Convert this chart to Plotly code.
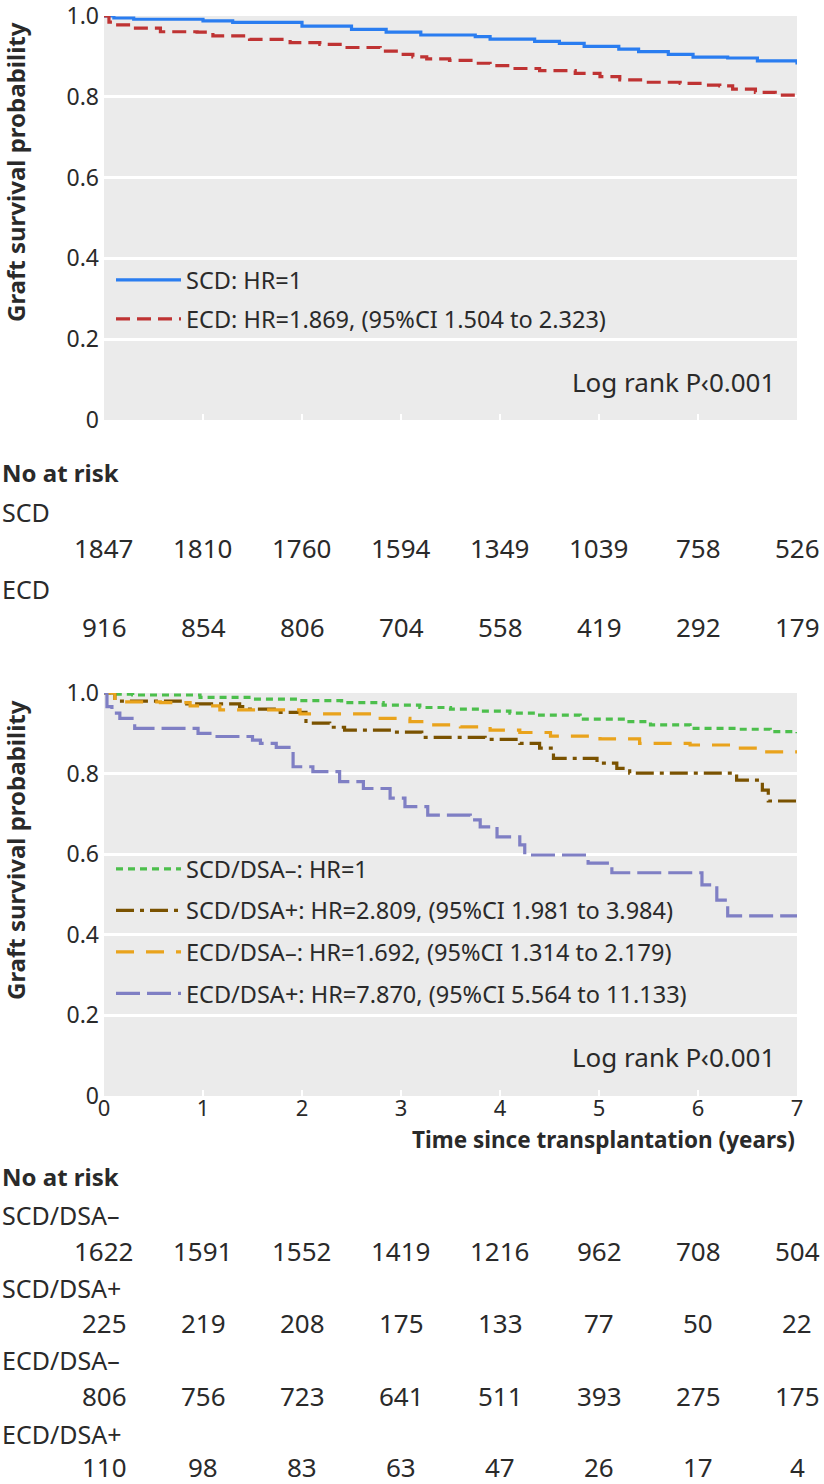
import plotly.graph_objects as go

# ---------------- data ----------------
years = [0, 1, 2, 3, 4, 5, 6, 7]

# Top panel: SCD vs ECD
scd_t = [0, 0.1, 0.3, 1.0, 1.3, 2.0, 2.5, 2.85, 3.2, 3.75, 3.9, 4.35, 4.6, 4.85, 5.2, 5.4, 5.7, 5.95, 6.3, 6.6, 7.0]
scd_s = [1.0, 0.995, 0.992, 0.988, 0.984, 0.975, 0.967, 0.960, 0.953, 0.949, 0.943, 0.937, 0.932, 0.925, 0.918, 0.912, 0.905, 0.898, 0.896, 0.889, 0.880]

ecd_t = [0, 0.05, 0.11, 0.29, 0.57, 0.94, 1.10, 1.47, 1.88, 2.18, 2.41, 2.79, 3.0, 3.12, 3.26, 3.49, 3.75, 3.90, 4.10, 4.40, 4.76, 5.01, 5.21, 5.46, 5.82, 6.02, 6.22, 6.35, 6.58, 6.78, 7.0]
ecd_s = [1.0, 0.985, 0.978, 0.970, 0.961, 0.960, 0.951, 0.942, 0.934, 0.930, 0.922, 0.913, 0.905, 0.899, 0.894, 0.890, 0.883, 0.877, 0.870, 0.865, 0.858, 0.850, 0.842, 0.836, 0.833, 0.829, 0.827, 0.819, 0.811, 0.804, 0.804]

# Bottom panel: donor type x DSA status
scdneg_t = [0, 0.1, 0.29, 0.97, 1.5, 1.98, 2.4, 2.82, 3.19, 3.5, 3.80, 4.1, 4.40, 4.81, 5.28, 5.52, 5.92, 6.42, 6.73, 7.0]
scdneg_s = [1.0, 0.997, 0.995, 0.989, 0.985, 0.981, 0.976, 0.970, 0.964, 0.960, 0.955, 0.950, 0.945, 0.935, 0.929, 0.921, 0.912, 0.910, 0.904, 0.900]

scdpos_t = [0, 0.11, 0.77, 1.37, 1.47, 1.78, 2.04, 2.28, 2.43, 2.9, 3.21, 3.85, 4.20, 4.40, 4.54, 4.98, 5.18, 5.31, 6.39, 6.65, 6.71, 7.0]
scdpos_s = [1.0, 0.980, 0.973, 0.966, 0.960, 0.952, 0.925, 0.915, 0.908, 0.903, 0.890, 0.885, 0.875, 0.863, 0.838, 0.826, 0.813, 0.801, 0.784, 0.759, 0.732, 0.732]

ecdneg_t = [0, 0.11, 0.57, 0.87, 1.17, 1.98, 2.79, 3.09, 3.29, 3.60, 3.90, 4.20, 4.51, 5.01, 5.41, 5.92, 6.35, 6.60, 7.0]
ecdneg_s = [1.0, 0.978, 0.976, 0.968, 0.958, 0.948, 0.937, 0.929, 0.921, 0.916, 0.908, 0.902, 0.893, 0.886, 0.875, 0.871, 0.863, 0.854, 0.850]

ecdpos_t = [0, 0.03, 0.08, 0.16, 0.31, 0.95, 1.07, 1.50, 1.58, 1.74, 1.91, 2.11, 2.38, 2.62, 2.89, 3.04, 3.27, 3.70, 3.80, 3.97, 4.20, 4.25, 4.89, 5.13, 6.04, 6.19, 6.30, 7.0]
ecdpos_s = [1.0, 0.966, 0.950, 0.937, 0.912, 0.900, 0.892, 0.883, 0.875, 0.865, 0.817, 0.805, 0.780, 0.763, 0.739, 0.718, 0.697, 0.685, 0.668, 0.643, 0.623, 0.598, 0.578, 0.554, 0.524, 0.486, 0.447, 0.447]

# Numbers at risk
risk_top_labels = ["SCD", "ECD"]
risk_top = [
    [1847, 1810, 1760, 1594, 1349, 1039, 758, 526],
    [916, 854, 806, 704, 558, 419, 292, 179],
]
risk_bot_labels = ["SCD/DSA–", "SCD/DSA+", "ECD/DSA–", "ECD/DSA+"]
risk_bot = [
    [1622, 1591, 1552, 1419, 1216, 962, 708, 504],
    [225, 219, 208, 175, 133, 77, 50, 22],
    [806, 756, 723, 641, 511, 393, 275, 175],
    [110, 98, 83, 63, 47, 26, 17, 4],
]

top_names = ["SCD: HR=1", "ECD: HR=1.869, (95%CI 1.504 to 2.323)"]
bot_names = ["SCD/DSA–: HR=1",
             "SCD/DSA+: HR=2.809, (95%CI 1.981 to 3.984)",
             "ECD/DSA–: HR=1.692, (95%CI 1.314 to 2.179)",
             "ECD/DSA+: HR=7.870, (95%CI 5.564 to 11.133)"]

ytick_vals = [0, 0.2, 0.4, 0.6, 0.8, 1.0]
ytick_text = ["0", "0.2", "0.4", "0.6", "0.8", "1.0"]

# ---------------- layout helpers ----------------
W, H = 824, 1484
FONT = "Noto Sans, Open Sans, DejaVu Sans, sans-serif"
TXT = "#2a2a2a"

def px(x):
    return x / W

def py(y):
    return 1 - y / H

fig = go.Figure()

LW = 3.2
fig.add_trace(go.Scatter(x=scd_t, y=scd_s, mode="lines", line=dict(shape="hv", color="#2a7df0", width=LW),
                         name=top_names[0], xaxis="x", yaxis="y", legend="legend", legendgroup="a"))
fig.add_trace(go.Scatter(x=ecd_t, y=ecd_s, mode="lines", line=dict(shape="hv", color="#bf3333", width=LW, dash="14px,7px"),
                         name=top_names[1], xaxis="x", yaxis="y", legend="legend", legendgroup="b"))

fig.add_trace(go.Scatter(x=scdneg_t, y=scdneg_s, mode="lines", line=dict(shape="hv", color="#4cbf4c", width=LW, dash="7px,5px"),
                         name=bot_names[0], xaxis="x2", yaxis="y2", legend="legend2", legendgroup="c"))
fig.add_trace(go.Scatter(x=scdpos_t, y=scdpos_s, mode="lines", line=dict(shape="hv", color="#7a5200", width=LW, dash="18px,6px,4px,6px"),
                         name=bot_names[1], xaxis="x2", yaxis="y2", legend="legend2", legendgroup="d"))
fig.add_trace(go.Scatter(x=ecdneg_t, y=ecdneg_s, mode="lines", line=dict(shape="hv", color="#e9a31c", width=LW, dash="18px,12px"),
                         name=bot_names[2], xaxis="x2", yaxis="y2", legend="legend2", legendgroup="e"))
fig.add_trace(go.Scatter(x=ecdpos_t, y=ecdpos_s, mode="lines", line=dict(shape="hv", color="#7f7fc4", width=LW, dash="24px,7px"),
                         name=bot_names[3], xaxis="x2", yaxis="y2", legend="legend2", legendgroup="f"))

xdom = [px(104), px(797)]
xcommon = dict(range=[0, 7], tickvals=years, ticks="inside", tickcolor="white", ticklen=6, tickwidth=2,
               showgrid=False, zeroline=False, showline=False, domain=xdom, automargin=False,
               ticklabeloverflow="allow", ticklabelstandoff=-3, tickfont=dict(family=FONT, size=22, color=TXT))
ycommon = dict(range=[0, 1], tickvals=ytick_vals, ticktext=ytick_text, showgrid=True, gridcolor="white",
               gridwidth=3, zeroline=False, showline=False, ticks="", ticklabelstandoff=4, automargin=False,
               ticklabeloverflow="allow", tickfont=dict(family=FONT, size=23, color=TXT))

LEG_FONT = 23.5
fig.update_layout(
    width=W, height=H, margin=dict(l=0, r=0, t=0, b=0, pad=0, autoexpand=False),
    paper_bgcolor="white", plot_bgcolor="#ebebeb",
    font=dict(family=FONT, color=TXT),
    xaxis=dict(**xcommon, anchor="y", showticklabels=False),
    yaxis=dict(**ycommon, anchor="x", domain=[py(420), py(16)]),
    xaxis2=dict(**xcommon, anchor="y2", showticklabels=True),
    yaxis2=dict(**ycommon, anchor="x2", domain=[py(1096), py(693)]),
    legend=dict(x=px(111), y=py(258), xanchor="left", yanchor="top", bgcolor="rgba(0,0,0,0)", itemwidth=65,
                font=dict(family=FONT, size=LEG_FONT, color=TXT), tracegroupgap=5.5, traceorder="grouped"),
    legend2=dict(x=px(111), y=py(847), xanchor="left", yanchor="top", bgcolor="rgba(0,0,0,0)", itemwidth=65,
                 font=dict(family=FONT, size=LEG_FONT, color=TXT), tracegroupgap=8, traceorder="grouped"),
    showlegend=True,
)

ann = []
# y axis titles
for yc in (172, 850):
    ann.append(dict(text="<b>Graft survival probability</b>", x=px(15), y=py(yc), xref="paper", yref="paper",
                    textangle=-90, showarrow=False, font=dict(family=FONT, size=24, color=TXT),
                    xanchor="center", yanchor="middle"))
# Log rank
for yc in (382, 1057):
    ann.append(dict(text="Log rank P‹0.001", x=px(777), y=py(yc), xref="paper", yref="paper",
                    showarrow=False, font=dict(family=FONT, size=26, color=TXT), xanchor="right", yanchor="middle"))
# x axis title
ann.append(dict(text="<b>Time since transplantation (years)</b>", x=px(797), y=py(1139), xref="paper", yref="paper",
                showarrow=False, font=dict(family=FONT, size=22.5, color=TXT), xanchor="right", yanchor="middle"))

# risk tables
def risk_table(y_head, label_ys, num_ys, labels, rows, xref):
    ann.append(dict(text="<b>No at risk</b>", x=0, y=py(y_head), xref="paper", yref="paper", showarrow=False,
                    font=dict(family=FONT, size=24, color=TXT), xanchor="left", yanchor="middle"))
    for lab, ly, ny, row in zip(labels, label_ys, num_ys, rows):
        ann.append(dict(text=lab, x=0, y=py(ly), xref="paper", yref="paper", showarrow=False,
                        font=dict(family=FONT, size=25, color=TXT), xanchor="left", yanchor="middle"))
        for yr, v in zip(years, row):
            ann.append(dict(text=str(v), x=yr, y=py(ny), xref=xref, yref="paper", showarrow=False,
                            font=dict(family=FONT, size=26, color=TXT), xanchor="center", yanchor="middle"))

risk_table(472, [512, 589], [548, 627], risk_top_labels, risk_top, "x")
risk_table(1176, [1215, 1288, 1360, 1434], [1251, 1323, 1396, 1467], risk_bot_labels, risk_bot, "x2")

fig.update_layout(annotations=ann)
fig.write_html("out.html", config={"displayModeBar": False},
               post_script="document.body.style.margin='0';document.body.style.overflow='hidden';")
